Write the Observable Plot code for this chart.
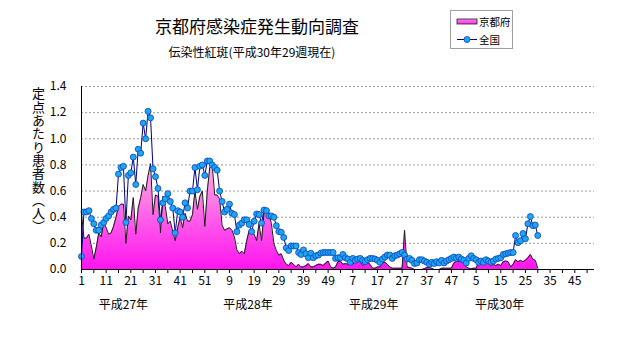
<!DOCTYPE html>
<html>
<head>
<meta charset="utf-8">
<script src="https://cdn.jsdelivr.net/npm/d3@7"></script>
<script src="https://cdn.jsdelivr.net/npm/@observablehq/plot@0.6"></script>
<style>
  body { margin: 0; background: #fff; font-family: "Noto Sans CJK JP", sans-serif; }
  #wrap { position: relative; width: 631px; height: 347px; overflow: hidden; background: #fff; }
  #wrap svg.chart { position: absolute; left: 0; top: 0; }
  .ov { position: absolute; white-space: nowrap; line-height: 1; color: #000; }
</style>
</head>
<body>
<div id="wrap">
  <div class="ov" id="title" style="left:257px; top:17px; transform:translateX(-50%); font-size:17px;">京都府感染症発生動向調査</div>
  <div class="ov" id="subtitle" style="left:252px; top:46px; transform:translateX(-50%); font-size:12px;">伝染性紅斑(平成30年29週現在)</div>
  <div class="ov" id="ylabel" style="left:32px; top:87px; font-size:13px; letter-spacing:0.3px; writing-mode:vertical-rl; text-orientation:upright;">定点あたり患者数（人）</div>
  <div class="ov" id="legend" style="left:450px; top:10px; width:61px; height:37px; border:1px solid #a0a0a0; background:#fff;"></div>
</div>
<script>
// ---- data (week index 0 = 平成27年第1週) ----
const kyoto = [
  0.43,0.24,0.24,0.27,0.18,0.08,0.17,0.28,0.25,0.36,
  0.32,0.27,0.28,0.33,0.40,0.48,0.50,0.50,0.20,0.41,
  0.38,0.55,0.27,0.47,0.55,0.65,0.60,0.72,0.81,0.42,
  0.57,0.56,0.28,0.56,0.48,0.35,0.37,0.29,0.22,0.32,
  0.40,0.32,0.43,0.37,0.37,0.42,0.60,0.46,0.56,0.60,
  0.33,0.60,0.78,0.80,0.57,0.57,0.54,0.34,0.30,0.31,
  0.32,0.30,0.25,0.15,0.12,0.14,0.12,0.22,0.30,0.30,
  0.27,0.22,0.35,0.22,0.43,0.45,0.43,0.35,0.20,0.145,
  0.11,0.12,0.07,0.04,0.03,0.055,0.04,0.02,0.04,0.02,
  0.02,0.03,0.045,0.02,0.02,0.03,0.04,0.04,0.03,0.05,
  0.065,0.02,0.01,0.02,0.06,0.065,0.04,0.045,0.04,0.05,
  0.04,0.06,0.065,0.06,0.03,0.05,0.055,0.04,0.01,0.01,
  0.02,0.02,0.05,0.055,0.04,0.02,0.01,0.01,0.01,0.01,
  0.01,0.30,0.02,0.015,0.01,0,0,0,0,0.005,
  0.015,0.015,0.01,0,0,0,0.01,0.01,0.01,0.01,
  0.01,0.05,0.065,0.06,0.07,0.05,0.02,0.01,0.005,0.01,
  0.01,0.05,0.055,0.06,0.05,0.06,0.03,0.04,0.03,0.04,
  0.03,0.06,0.065,0.06,0.02,0.04,0.075,0.06,0.07,0.06,
  0.07,0.09,0.115,0.08,0.07,0.01
];
const national = [
  0.10,0.44,0.44,0.45,0.39,0.35,0.30,0.30,0.34,0.36,
  0.39,0.41,0.44,0.46,0.47,0.73,0.78,0.79,0.36,0.72,
  0.74,0.86,0.65,0.92,0.89,1.12,1.00,1.21,1.16,0.77,
  0.71,0.62,0.38,0.51,0.54,0.58,0.52,0.47,0.28,0.45,
  0.44,0.40,0.51,0.47,0.60,0.60,0.78,0.61,0.79,0.80,
  0.72,0.83,0.83,0.80,0.78,0.76,0.60,0.52,0.44,0.46,
  0.50,0.43,0.42,0.29,0.34,0.355,0.38,0.38,0.345,0.29,
  0.37,0.425,0.42,0.355,0.455,0.45,0.41,0.41,0.40,0.335,
  0.29,0.285,0.245,0.165,0.145,0.18,0.18,0.18,0.13,0.115,
  0.15,0.12,0.09,0.125,0.09,0.105,0.11,0.125,0.13,0.13,
  0.13,0.13,0.13,0.085,0.09,0.09,0.115,0.09,0.08,0.055,
  0.085,0.07,0.08,0.085,0.07,0.06,0.075,0.085,0.085,0.08,
  0.07,0.055,0.08,0.095,0.11,0.11,0.085,0.105,0.11,0.12,
  0.13,0.11,0.08,0.085,0.07,0.045,0.05,0.075,0.075,0.065,
  0.055,0.04,0.055,0.045,0.06,0.05,0.07,0.05,0.065,0.075,
  0.085,0.095,0.085,0.095,0.08,0.07,0.05,0.085,0.105,0.085,
  0.075,0.055,0.065,0.055,0.075,0.065,0.055,0.065,0.08,0.085,
  0.09,0.115,0.12,0.125,0.13,0.13,0.26,0.205,0.22,0.275,
  0.235,0.35,0.405,0.335,0.34,0.26
];
const tickLabels = ["1","11","21","31","41","51","9","19","29","39","49","7","17","27","37","47","5","15","25","35","45"];
const yearLabels = ["平成27年","平成28年","平成29年","平成30年"];
const yearCenters = [17, 67.5, 118.5, 169.5];
const yTicks = [0,0.2,0.4,0.6,0.8,1.0,1.2,1.4];
const totalWeeks = 209;

const rows = kyoto.map((k, i) => ({i, kyoto: k, national: national[i]}));
const labelPos = tickLabels.map((_, j) => j * 10);
const labelMap = new Map(labelPos.map((p, j) => [p, tickLabels[j]]));
const years = yearLabels.map((t, j) => ({t, x: yearCenters[j]}));

const svg = Plot.plot({
  width: 631,
  height: 347,
  marginLeft: 81,
  marginRight: 37,
  marginTop: 86,
  marginBottom: 78,
  style: {fontFamily: "'Noto Sans CJK JP', sans-serif", fontSize: "12px", background: "transparent", color: "#000"},
  x: {domain: [0, totalWeeks - 1]},
  y: {domain: [0, 1.4]},
  marks: [
    Plot.ruleY(yTicks.slice(1), {stroke: "#9a9a9a", strokeDasharray: "2,2", strokeWidth: 1}),
    Plot.areaY(rows, {x: "i", y: "kyoto", fill: "url(#kgrad)"}),
    Plot.lineY(rows, {x: "i", y: "kyoto", stroke: "#1a1a1a", strokeWidth: 1}),
    Plot.lineY(rows, {x: "i", y: "national", stroke: "#000080", strokeWidth: 1}),
    Plot.dot(rows, {x: "i", y: "national", r: 3, fill: "#1aa8f0", stroke: "#1040c0", strokeWidth: 0.8}),
    Plot.ruleX([0], {stroke: "#000"}),
    Plot.ruleY([0], {stroke: "#000"}),
    Plot.axisY({ticks: yTicks, tickFormat: d3.format(".1f"), tickSize: 0, tickPadding: 15, fontSize: 12}),
    Plot.axisX({ticks: d3.range(0, totalWeeks, 5), tickFormat: () => "", tickSize: 4}),
    Plot.axisX({ticks: labelPos, tickFormat: d => labelMap.get(d), tickSize: 0, tickPadding: 7, fontSize: 12}),
    Plot.text(years, {x: "x", text: "t", frameAnchor: "bottom", dy: 39, fontSize: 12})
  ]
});
svg.classList.add("chart");
const ys = svg.scale("y");
const defs = d3.select(svg).insert("defs", ":first-child");
const grad = defs.append("linearGradient").attr("id", "kgrad")
  .attr("gradientUnits", "userSpaceOnUse")
  .attr("x1", 0).attr("x2", 0)
  .attr("y1", ys.apply(0.85)).attr("y2", ys.apply(0));
grad.append("stop").attr("offset", 0).attr("stop-color", "#ffb8e2");
grad.append("stop").attr("offset", 1).attr("stop-color", "#ff14f0");
const wrap = document.getElementById("wrap");
wrap.insertBefore(svg, wrap.firstChild);

// legend
const lg = d3.select("#legend").append("svg").attr("width", 61).attr("height", 37);
const lgrad = lg.append("defs").append("linearGradient").attr("id", "lgrad").attr("x1", 0).attr("x2", 0).attr("y1", 0).attr("y2", 1);
lgrad.append("stop").attr("offset", 0).attr("stop-color", "#ff80e8");
lgrad.append("stop").attr("offset", 1).attr("stop-color", "#ff30f0");
lg.append("rect").attr("x", 6).attr("y", 8).attr("width", 20).attr("height", 5).attr("fill", "url(#lgrad)").attr("stroke", "#202020").attr("stroke-width", 0.8);
lg.append("text").attr("x", 28).attr("y", 15).attr("font-size", 10.5).attr("font-family", "'Noto Sans CJK JP', sans-serif").text("京都府");
lg.append("line").attr("x1", 6).attr("x2", 26).attr("y1", 28.5).attr("y2", 28.5).attr("stroke", "#000080");
lg.append("circle").attr("cx", 16).attr("cy", 28.5).attr("r", 3).attr("fill", "#1aa8f0").attr("stroke", "#1040c0").attr("stroke-width", 0.8);
lg.append("text").attr("x", 28).attr("y", 33).attr("font-size", 10.5).attr("font-family", "'Noto Sans CJK JP', sans-serif").text("全国");
</script>
</body>
</html>
